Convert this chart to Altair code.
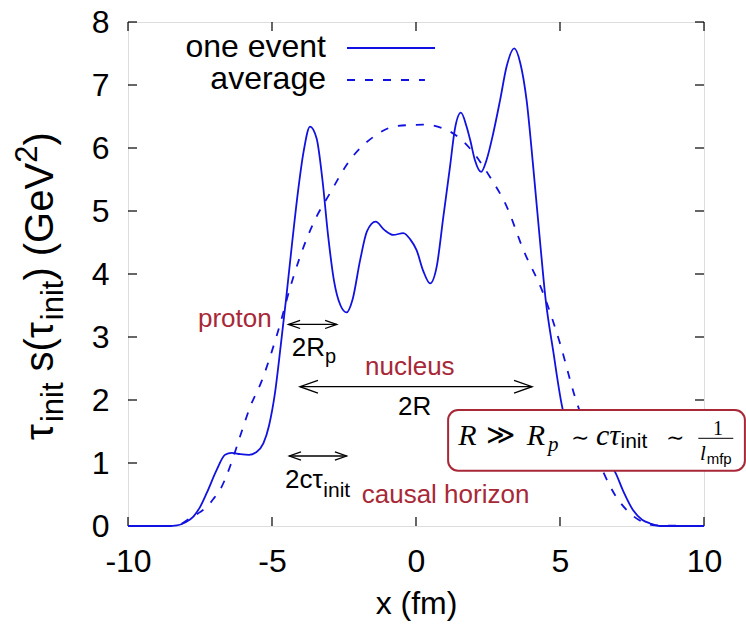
import altair as alt
import pandas as pd

# ---------------- data ----------------
event_x = [-10, -8.6, -8.3, -8.0, -7.73, -7.5, -7.27, -6.92, -6.63, -6.4, -6.1, -5.8,
           -5.55, -5.3, -5.1, -4.9, -4.7, -4.5, -4.3, -4.1, -3.9, -3.68, -3.45, -3.25,
           -3.05, -2.85, -2.62, -2.41, -2.2, -1.94, -1.7, -1.4, -1.1, -0.79, -0.44, -0.2,
           0.02, 0.25, 0.49, 0.72, 0.95, 1.18, 1.35, 1.56, 1.75, 1.88, 2.05, 2.26, 2.45,
           2.68, 2.92, 3.15, 3.41, 3.62, 3.84, 4.07, 4.31, 4.5, 4.76, 5.1, 5.3, 5.55,
           5.85, 6.15, 6.45, 6.7, 6.91, 7.2, 7.54, 7.85, 8.13, 8.45, 10]
event_y = [0, 0, 0.01, 0.06, 0.15, 0.3, 0.52, 0.89, 1.13, 1.16, 1.14, 1.13,
           1.17, 1.31, 1.6, 2.1, 2.85, 3.65, 4.5, 5.3, 5.95, 6.34, 6.15, 5.5,
           4.6, 3.9, 3.5, 3.39, 3.6, 4.22, 4.68, 4.83, 4.7, 4.62, 4.65, 4.55,
           4.38, 4.05, 3.85, 4.12, 4.91, 5.7, 6.3, 6.56, 6.35, 6.13, 5.8, 5.62, 5.81,
           6.23, 6.76, 7.3, 7.58, 7.35, 6.76, 5.7, 4.5, 3.6, 2.79, 1.84, 1.55, 1.35,
           1.28, 1.25, 1.15, 1.0, 0.86, 0.55, 0.25, 0.1, 0.04, 0.0, 0]

avg_x = [-10, -8.6, -8.3, -7.85, -7.5, -7.27, -7.0, -6.81, -6.46, -6.11, -5.76, -5.36,
         -5.0, -4.66, -4.49, -4.03, -3.57, -2.99, -2.29, -1.37, -0.67, 0.25, 0.95,
         1.76, 2.57, 3.15, 3.73, 4.42, 5.0, 5.52, 5.9, 6.2, 6.5, 6.9, 7.32, 7.8, 8.3, 10]
avg_y = [0, 0, 0.01, 0.12, 0.22, 0.3, 0.45, 0.57, 0.94, 1.42, 1.89, 2.3,
         2.78, 3.3, 3.59, 4.27, 4.8, 5.28, 5.81, 6.21, 6.35, 6.37, 6.31,
         6.05, 5.54, 5.07, 4.38, 3.69, 2.9, 2.05, 1.55, 1.2, 0.86, 0.5, 0.25, 0.08, 0.01, 0]

x_ticks = [-10, -5, 0, 5, 10]
y_ticks = [0, 1, 2, 3, 4, 5, 6, 7, 8]

# ---------------- styling ----------------
W, H = 576, 504
BLUE = "#1212e0"
RED = "#a82838"
FONT = "Liberation Sans"
SERIF = "Liberation Serif"
MATH = "DejaVu Serif"
TICK_FS = 32

xs = alt.Scale(domain=[-10, 10], nice=False, zero=False)
ys = alt.Scale(domain=[0, 8], nice=False, zero=False)
ax_x = alt.Axis(values=x_ticks, title="x (fm)", ticks=False, tickSize=0, domain=False,
                grid=False, labelFont=FONT, labelFontSize=TICK_FS, labelColor="black",
                labelExpr="'' + datum.value",
                labelPadding=20, labelFlush=False, titleFont=FONT, titleFontSize=TICK_FS,
                titleFontWeight="normal", titleColor="black", titleBaseline="alphabetic",
                titleY=87, titleX=W / 2)
ax_y = alt.Axis(values=y_ticks, title=None, ticks=False, tickSize=0, domain=False,
                grid=False, labelFont=FONT, labelFontSize=TICK_FS, labelColor="black",
                labelPadding=19, labelFlush=False)


def X(f="x"):
    return alt.X(f"{f}:Q", scale=xs, axis=ax_x)


def Y(f="y"):
    return alt.Y(f"{f}:Q", scale=ys, axis=ax_y)


df_event = pd.DataFrame({"x": event_x, "y": event_y})
df_avg = pd.DataFrame({"x": avg_x, "y": avg_y})

layers = []

# frame ticks (inward, mirrored)
dfx = pd.DataFrame({"x": x_ticks})
dfy = pd.DataFrame({"y": y_ticks})
tick_style = dict(color="black", strokeWidth=1.2)
layers.append(alt.Chart(dfx).mark_rule(**tick_style).encode(x=X(), y=alt.value(H), y2=alt.value(H - 9)))
layers.append(alt.Chart(dfx).mark_rule(**tick_style).encode(x=X(), y=alt.value(0), y2=alt.value(9)))
layers.append(alt.Chart(dfy).mark_rule(**tick_style).encode(y=Y(), x=alt.value(0), x2=alt.value(9)))
layers.append(alt.Chart(dfy).mark_rule(**tick_style).encode(y=Y(), x=alt.value(W - 9), x2=alt.value(W)))

# curves
layers.append(alt.Chart(df_avg).mark_line(color=BLUE, strokeWidth=1.8, strokeDash=[8, 10],
                                          interpolate="monotone").encode(x=X(), y=Y()))
layers.append(alt.Chart(df_event).mark_line(color=BLUE, strokeWidth=1.8,
                                            interpolate="monotone").encode(x=X(), y=Y()))

# legend (placed in data coordinates)
leg_lab = pd.DataFrame({"x": [-3.125, -3.125], "y": [7.587, 7.079], "t": ["one event", "average"]})
layers.append(alt.Chart(leg_lab).mark_text(font=FONT, fontSize=32, align="right", baseline="middle",
                                           color="black", dy=-1).encode(x=X(), y=Y(), text="t:N"))
layers.append(alt.Chart(pd.DataFrame({"x": [-2.396], "x2": [0.66], "y": [7.587]}))
              .mark_rule(color=BLUE, strokeWidth=1.8).encode(x=X(), x2="x2", y=Y()))
layers.append(alt.Chart(pd.DataFrame({"x": [-2.396], "x2": [0.31], "y": [7.079]}))
              .mark_rule(color=BLUE, strokeWidth=1.8, strokeDash=[8, 10]).encode(x=X(), x2="x2", y=Y()))


def txt(x, y, s, size=26, color="black", align="left", font=FONT, style="normal", baseline="alphabetic"):
    return alt.Chart(pd.DataFrame({"x": [x], "y": [y]})).mark_text(
        text=s, font=font, fontSize=size, color=color, align=align, baseline=baseline,
        fontStyle=style).encode(x=X(), y=Y())


HEAD = "M-1,-0.35L0,0L-1,0.35"


def arrow(x1, x2, y, size):
    out = [alt.Chart(pd.DataFrame({"x": [x1], "x2": [x2], "y": [y]}))
           .mark_rule(color="black", strokeWidth=1.3).encode(x=X(), x2="x2", y=Y())]
    out.append(alt.Chart(pd.DataFrame({"x": [x2], "y": [y]}))
               .mark_point(shape=HEAD, filled=False, color="black", strokeWidth=1.3, size=size,
                           opacity=1).encode(x=X(), y=Y()))
    out.append(alt.Chart(pd.DataFrame({"x": [x1], "y": [y]}))
               .mark_point(shape=HEAD, filled=False, color="black", strokeWidth=1.3, size=size,
                           angle=180, opacity=1).encode(x=X(), y=Y()))
    return out


# annotations
layers.append(txt(-5.01, 3.163, "proton", color=RED, align="right"))
layers += arrow(-4.43, -2.75, 3.20, 548)
layers.append(txt(-4.316, 2.698, "2R"))
layers.append(txt(-3.16, 2.587, "p", size=20))

layers.append(txt(-1.771, 2.397, "nucleus", color=RED))
layers += arrow(-4.03, 4.03, 2.211, 1300)
layers.append(txt(-0.625, 1.762, "2R"))

layers += arrow(-4.40, -2.41, 1.111, 548)
layers.append(txt(-4.549, 0.598, "2cτ"))
layers.append(txt(-3.219, 0.465, "init", size=21))
layers.append(txt(-1.885, 0.360, "causal horizon", color=RED))

# formula box
layers.append(alt.Chart(pd.DataFrame({"x": [1.115], "x2": [11.42], "y": [0.877], "y2": [1.841]}))
              .mark_rect(cornerRadius=10, fill="white", stroke=RED, strokeWidth=2)
              .encode(x=X(), x2="x2", y=Y(), y2="y2"))
layers.append(txt(1.469, 1.286, "R", size=30, font=SERIF, style="italic"))
layers.append(txt(2.42, 1.30, "≫", size=28, font=MATH))
layers.append(txt(3.844, 1.286, "R", size=30, font=SERIF, style="italic"))
layers.append(txt(4.583, 1.190, "p", size=21, font=SERIF, style="italic"))
layers.append(txt(5.38, 1.29, "∼", size=22, font=MATH))
layers.append(txt(6.25, 1.286, "cτ", size=30, font=SERIF, style="italic"))
layers.append(txt(7.10, 1.233, "init", size=21))
layers.append(txt(8.68, 1.29, "∼", size=22, font=MATH))
layers.append(txt(10.486, 1.444, "1", size=20, font=SERIF, align="center"))
layers.append(alt.Chart(pd.DataFrame({"x": [9.802], "x2": [11.017], "y": [1.392]}))
              .mark_rule(color="black", strokeWidth=1).encode(x=X(), x2="x2", y=Y()))
layers.append(txt(9.861, 1.048, "l", size=21, font=SERIF, style="italic"))
layers.append(txt(10.094, 0.984, "mfp", size=15))

# rotated y-axis title, built from pieces (pixel positions relative to the plot area)
one = pd.DataFrame({"a": [0]})
ytitle = [  # (text, x_px, y_px(abs), size)
    ("τ", -75, 440, 40),
    ("init", -65, 422.1, 31),
    ("s(", -75, 371.4, 40),
    ("τ", -75, 338.1, 40),
    ("init", -65, 320.2, 31),
    (")", -75, 280.6, 40),
    ("(GeV", -75, 256.2, 40),
    ("2", -91, 162.8, 31),
    (")", -75, 145.6, 40),
]
for s, xp, yp, fs in ytitle:
    layers.append(alt.Chart(one).mark_text(text=s, font=FONT, fontSize=fs, angle=270, align="left",
                                           baseline="alphabetic", color="black")
                  .encode(x=alt.value(xp), y=alt.value(yp - 22)))

chart = alt.layer(*layers).properties(
    width=W, height=H,
    autosize=alt.AutoSizeParams(type="none"),
    padding={"left": 128, "top": 22, "right": 42, "bottom": 100},
).configure_view(stroke="black", strokeWidth=1.6).configure(background="white")

chart.save("out.html", embed_options={"renderer": "svg", "actions": False})
